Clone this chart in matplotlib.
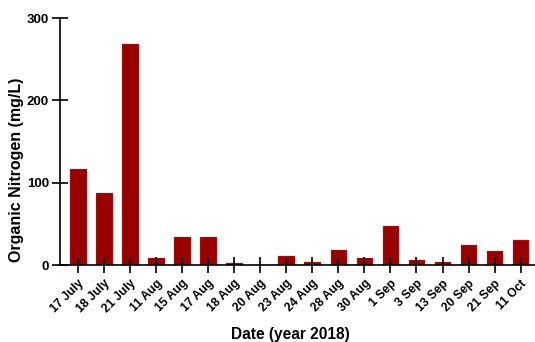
import matplotlib
matplotlib.use("Agg")
import matplotlib.pyplot as plt
import numpy as np

plt.rcParams['font.family'] = ['Liberation Sans', 'DejaVu Sans']

dates = ['17 July', '18 July', '21 July', '11 Aug', '15 Aug', '17 Aug', '18 Aug',
         '20 Aug', '23 Aug', '24 Aug', '28 Aug', '30 Aug', '1 Sep', '3 Sep',
         '13 Sep', '20 Sep', '21 Sep', '11 Oct']
org_n = [117, 88, 268, 8.5, 34, 34, 3, 0.5, 11, 4, 18.5, 8.5, 48, 6.5, 4, 24, 17, 31]
yticks = [0, 100, 200, 300]

fig = plt.figure(figsize=(5.35, 3.42), dpi=100)
ax = fig.add_axes([0.112, 0.225, 0.888, 0.722])

x = np.arange(len(dates))
bars = ax.bar(x, org_n, width=0.6, color='#990000', edgecolor='#a00c0c', linewidth=0.9)
for b in bars:
    b.set_joinstyle('round')

ax.set_xlim(-0.69, 17.55)
ax.set_ylim(0, 300)
ax.set_yticks(yticks)
ax.set_yticklabels([str(v) for v in yticks], fontsize=9.5, fontweight='bold')
ax.set_xticks(x)
ax.set_xticklabels(dates, rotation=45, ha='right', rotation_mode='anchor',
                   fontsize=8.7, fontweight='bold')

for s in ['top', 'right']:
    ax.spines[s].set_visible(False)
for s in ['left', 'bottom']:
    ax.spines[s].set_linewidth(1.2)
ax.tick_params(axis='both', direction='inout', length=12, width=1.2, pad=2)
ax.tick_params(axis='x', pad=3)

ax.set_ylabel('Organic Nitrogen (mg/L)', fontsize=11.5, fontweight='bold', va='center')
ax.yaxis.set_label_coords(-0.092, 0.385)
ax.set_xlabel('Date (year 2018)', fontsize=11.2, fontweight='bold', va='center')
ax.xaxis.set_label_coords(0.486, -0.283)

fig.savefig('out.png', dpi=100)
